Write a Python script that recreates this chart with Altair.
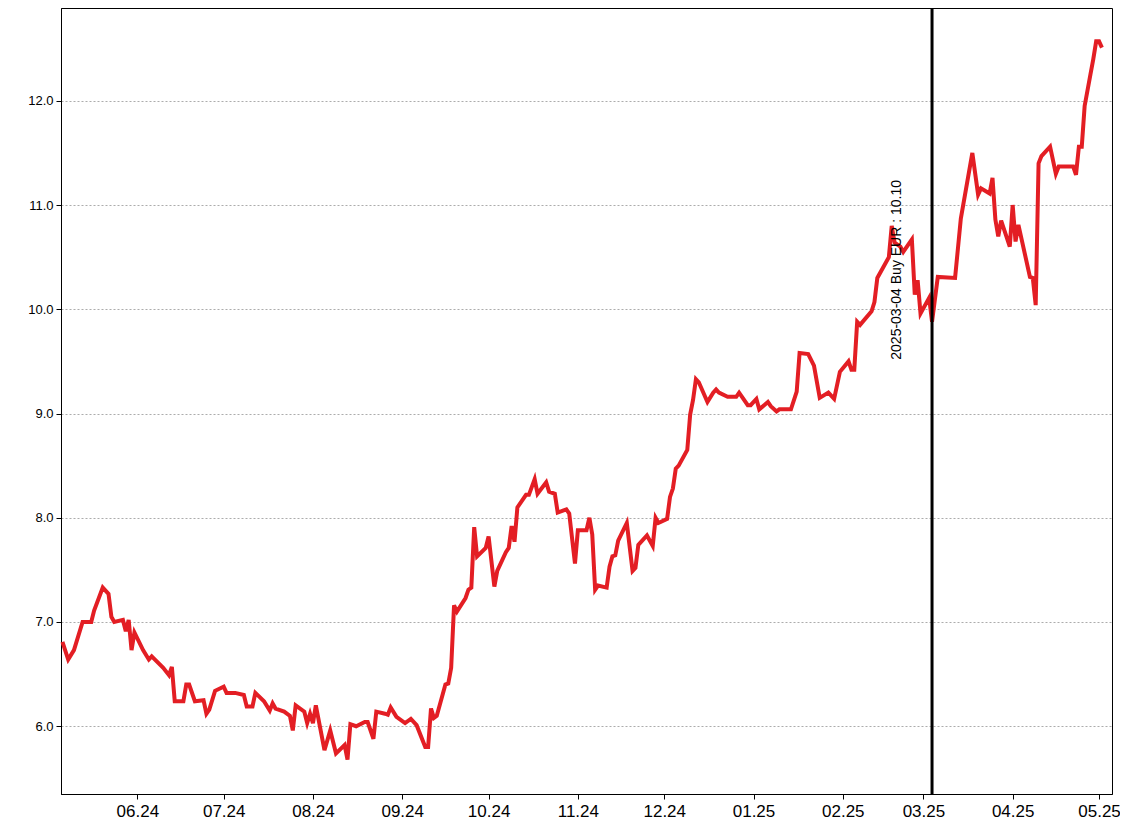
import altair as alt
import pandas as pd

dates = [
    "2024-05-06", "2024-05-08", "2024-05-10", "2024-05-13", "2024-05-16", "2024-05-17", "2024-05-20",
    "2024-05-22", "2024-05-23", "2024-05-24", "2024-05-27", "2024-05-28", "2024-05-29", "2024-05-30",
    "2024-05-31",
    "2024-06-03", "2024-06-05", "2024-06-06", "2024-06-10", "2024-06-12", "2024-06-13", "2024-06-14",
    "2024-06-17", "2024-06-18", "2024-06-19", "2024-06-21", "2024-06-24", "2024-06-25", "2024-06-26",
    "2024-06-28",
    "2024-07-01", "2024-07-02", "2024-07-05", "2024-07-08", "2024-07-09", "2024-07-11", "2024-07-12",
    "2024-07-15", "2024-07-17", "2024-07-18", "2024-07-19", "2024-07-22", "2024-07-24", "2024-07-25",
    "2024-07-26", "2024-07-29", "2024-07-30", "2024-07-31",
    "2024-08-01", "2024-08-02", "2024-08-05", "2024-08-07", "2024-08-09", "2024-08-12", "2024-08-13",
    "2024-08-14", "2024-08-16", "2024-08-19", "2024-08-20", "2024-08-22", "2024-08-23", "2024-08-26",
    "2024-08-27", "2024-08-28", "2024-08-30",
    "2024-09-02", "2024-09-04", "2024-09-06", "2024-09-09", "2024-09-10", "2024-09-11", "2024-09-12",
    "2024-09-13", "2024-09-16", "2024-09-17", "2024-09-18", "2024-09-19", "2024-09-20", "2024-09-23",
    "2024-09-24", "2024-09-25", "2024-09-26", "2024-09-27", "2024-09-30",
    "2024-10-01", "2024-10-03", "2024-10-04", "2024-10-07", "2024-10-08", "2024-10-09", "2024-10-10",
    "2024-10-11", "2024-10-14", "2024-10-15", "2024-10-17", "2024-10-18", "2024-10-21", "2024-10-22",
    "2024-10-24", "2024-10-25", "2024-10-28", "2024-10-29", "2024-10-31",
    "2024-11-01", "2024-11-04", "2024-11-05", "2024-11-06", "2024-11-07", "2024-11-08", "2024-11-11",
    "2024-11-12", "2024-11-13", "2024-11-14", "2024-11-15", "2024-11-18", "2024-11-20", "2024-11-21",
    "2024-11-22", "2024-11-25", "2024-11-27", "2024-11-28", "2024-11-29",
    "2024-12-02", "2024-12-03", "2024-12-04", "2024-12-05", "2024-12-06", "2024-12-09", "2024-12-10",
    "2024-12-11", "2024-12-12", "2024-12-13", "2024-12-16", "2024-12-18", "2024-12-19", "2024-12-20",
    "2024-12-23", "2024-12-26", "2024-12-27", "2024-12-30", "2024-12-31",
    "2025-01-02", "2025-01-03", "2025-01-06", "2025-01-07", "2025-01-09", "2025-01-10", "2025-01-14",
    "2025-01-16", "2025-01-17", "2025-01-20", "2025-01-22", "2025-01-24", "2025-01-27", "2025-01-29",
    "2025-01-31",
    "2025-02-03", "2025-02-04", "2025-02-05", "2025-02-06", "2025-02-07", "2025-02-11", "2025-02-12",
    "2025-02-13", "2025-02-17", "2025-02-18", "2025-02-19", "2025-02-21", "2025-02-22", "2025-02-25",
    "2025-02-26", "2025-02-27", "2025-02-28",
    "2025-03-03", "2025-03-04", "2025-03-06", "2025-03-12", "2025-03-14", "2025-03-18", "2025-03-20",
    "2025-03-21", "2025-03-24", "2025-03-25", "2025-03-26", "2025-03-27", "2025-03-28", "2025-03-31",
    "2025-04-01", "2025-04-02", "2025-04-03", "2025-04-07", "2025-04-08", "2025-04-09", "2025-04-10",
    "2025-04-11", "2025-04-14", "2025-04-16", "2025-04-17", "2025-04-22", "2025-04-23", "2025-04-24",
    "2025-04-25", "2025-04-26", "2025-04-28", "2025-04-29", "2025-04-30",
    "2025-05-01", "2025-05-02",
]

prices = [
    6.81, 6.64, 6.73, 7.00, 7.00, 7.11, 7.33,
    7.27, 7.05, 7.00, 7.02, 6.91, 7.02, 6.73,
    6.90,
    6.73, 6.64, 6.67, 6.56, 6.49, 6.57, 6.24,
    6.24, 6.40, 6.40, 6.24, 6.25, 6.12, 6.16,
    6.34,
    6.38, 6.32, 6.32, 6.30, 6.19, 6.19, 6.32,
    6.24, 6.15, 6.22, 6.17, 6.14, 6.10, 5.96,
    6.20, 6.14, 6.03, 6.12,
    6.03, 6.20, 5.77, 5.96, 5.74, 5.82, 5.68,
    6.02, 6.00, 6.04, 6.04, 5.88, 6.14, 6.12,
    6.11, 6.18, 6.09,
    6.03, 6.07, 6.01, 5.80, 5.80, 6.17, 6.08,
    6.10, 6.40, 6.41, 6.56, 7.16, 7.10, 7.23,
    7.31, 7.33, 7.91, 7.63, 7.71,
    7.82, 7.34, 7.49, 7.67, 7.71, 7.92, 7.77,
    8.10, 8.22, 8.22, 8.37, 8.23, 8.34, 8.25,
    8.23, 8.05, 8.08, 8.04, 7.56,
    7.88, 7.88, 8.00, 7.84, 7.31, 7.35, 7.33,
    7.53, 7.63, 7.64, 7.78, 7.95, 7.49, 7.52,
    7.74, 7.83, 7.73, 8.00, 7.95,
    7.99, 8.20, 8.28, 8.47, 8.50, 8.65, 8.99,
    9.13, 9.33, 9.30, 9.11, 9.20, 9.23, 9.20,
    9.16, 9.16, 9.20, 9.08, 9.08,
    9.14, 9.04, 9.11, 9.07, 9.02, 9.04, 9.04,
    9.21, 9.58, 9.57, 9.46, 9.15, 9.20, 9.14,
    9.40,
    9.50, 9.42, 9.42, 9.88, 9.85, 9.98, 10.07,
    10.30, 10.50, 10.80, 10.64, 10.60, 10.55, 10.67,
    10.14, 10.28, 9.96,
    10.11, 9.88, 10.31, 10.30, 10.87, 11.50, 11.10,
    11.16, 11.11, 11.26, 10.86, 10.70, 10.85, 10.60,
    11.00, 10.65, 10.81, 10.31, 10.30, 10.04, 11.40,
    11.47, 11.56, 11.30, 11.37, 11.37, 11.29, 11.56,
    11.56, 11.95, 12.25, 12.40, 12.57,
    12.57, 12.51,
]

month_ticks = [(2024, m) for m in range(6, 13)] + [(2025, m) for m in range(1, 6)]
y_ticks = [6, 7, 8, 9, 10, 11, 12]
x_domain = [(2024, 5, 5, 12), (2025, 5, 5, 12)]
y_domain = [5.35, 12.89]

buy_date = "2025-03-04"
buy_price = 10.10
buy_label = "2025-03-04 Buy EUR : 10.10"

df = pd.DataFrame({"date": pd.to_datetime(dates), "price": prices})
buy_df = pd.DataFrame({"date": pd.to_datetime([buy_date]), "price": [buy_price], "label": [buy_label]})

FONT = "Liberation Sans"

x_scale = alt.Scale(domain=[alt.DateTime(year=y, month=m, date=d, hours=h) for (y, m, d, h) in x_domain])
y_scale = alt.Scale(domain=y_domain, nice=False, zero=False)

x_axis = alt.Axis(
    values=[alt.DateTime(year=y, month=m, date=1) for (y, m) in month_ticks],
    format="%m.%y", title=None, grid=False,
    labelFont=FONT, labelFontSize=17, labelColor="black", labelPadding=4,
    tickColor="black", tickSize=5, domainColor="black", labelFlush=False,
)
y_axis = alt.Axis(
    values=y_ticks, format=".1f", title=None, grid=True,
    gridColor="#888888", gridDash=[2, 2], gridWidth=0.7,
    labelFont=FONT, labelFontSize=13, labelColor="black", labelPadding=3,
    tickColor="black", tickSize=5, domainColor="black",
)

line = alt.Chart(df).mark_line(color="#e31e24", strokeWidth=4, strokeJoin="miter").encode(
    x=alt.X("date:T", scale=x_scale, axis=x_axis),
    y=alt.Y("price:Q", scale=y_scale, axis=y_axis),
)

rule = alt.Chart(buy_df).mark_rule(color="black", strokeWidth=3).encode(
    x=alt.X("date:T", scale=x_scale),
)

label = alt.Chart(buy_df).mark_text(
    angle=270, align="center", baseline="alphabetic", dx=29, dy=-31,
    font=FONT, fontSize=14, color="black",
).encode(
    x=alt.X("date:T", scale=x_scale),
    y=alt.Y("price:Q", scale=y_scale),
    text="label:N",
)

chart = alt.layer(line, rule, label).properties(
    width=1051, height=786,
    autosize=alt.AutoSizeParams(type="none"),
    padding={"left": 53, "top": 0, "right": 8, "bottom": 34},
    background="white",
).configure_view(stroke="black", strokeWidth=1)

chart.save("out.html", embed_options={"renderer": "svg", "actions": False})
